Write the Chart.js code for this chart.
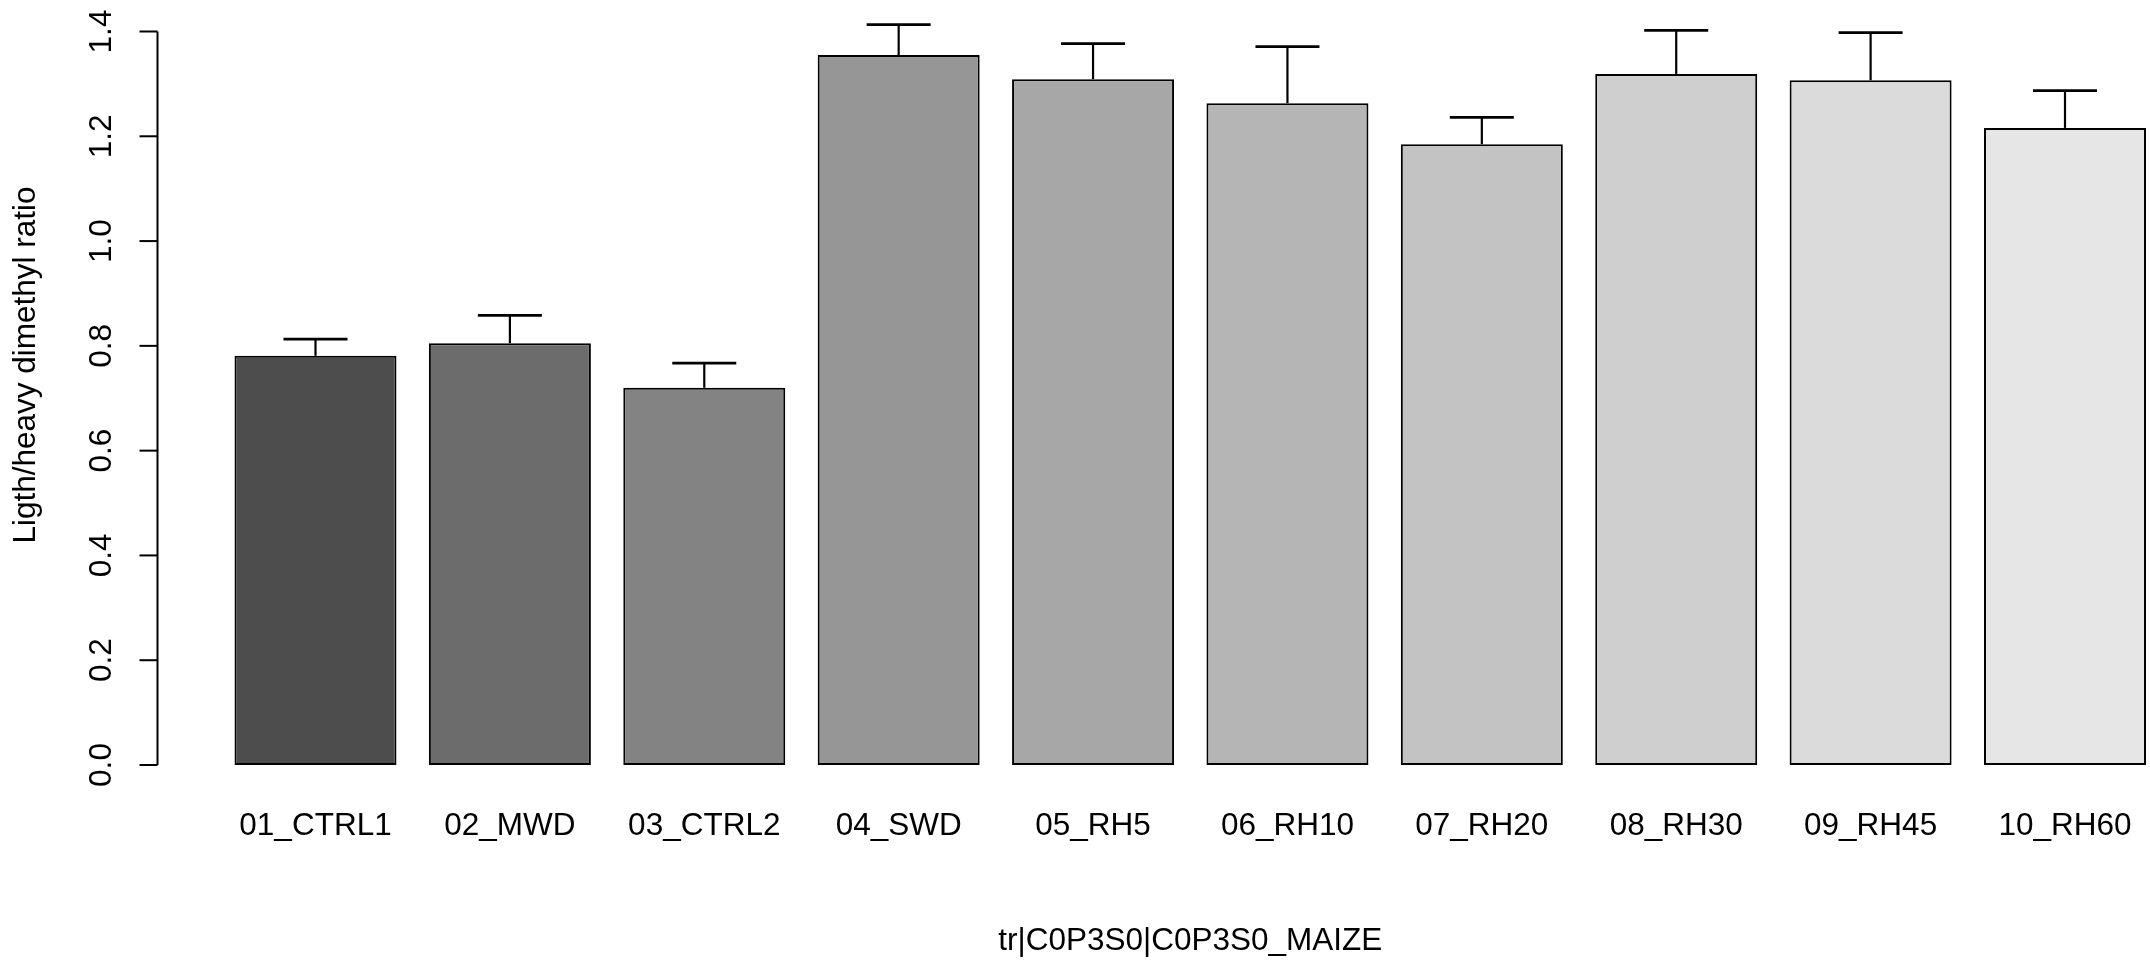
<!DOCTYPE html>
<html>
<head>
<meta charset="utf-8">
<script src="https://cdn.jsdelivr.net/npm/chart.js@4/dist/chart.umd.min.js"></script>
<style>
    html, body { margin: 0; padding: 0; background: #ffffff; overflow: hidden; }
    #wrap { width: 2150px; height: 961px; position: relative; }
</style>
</head>
<body>
<div id="wrap"><canvas id="ratioChart" width="2150" height="961"></canvas></div>
<script>
    // Data
    const categories = ['01_CTRL1', '02_MWD', '03_CTRL2', '04_SWD', '05_RH5',
        '06_RH10', '07_RH20', '08_RH30', '09_RH45', '10_RH60'];
    const ratioMeans = [0.781, 0.805, 0.720, 1.355, 1.309, 1.263, 1.185, 1.319, 1.307, 1.216];
    const ratioErrors = [0.032, 0.053, 0.047, 0.058, 0.068, 0.108, 0.051, 0.083, 0.091, 0.071];
    const yTicks = [0, 0.2, 0.4, 0.6, 0.8, 1.0, 1.2, 1.4];
    const yTickLabels = ['0.0', '0.2', '0.4', '0.6', '0.8', '1.0', '1.2', '1.4'];
    const barColors = ['#4D4D4D', '#6C6C6C', '#838383', '#969696', '#A7A7A7',
        '#B5B5B5', '#C3C3C3', '#CFCFCF', '#DBDBDB', '#E6E6E6'];
    const xTitle = 'tr|C0P3S0|C0P3S0_MAIZE';
    const yTitle = 'Ligth/heavy dimethyl ratio';

    const FONT = '31.5px "Liberation Sans", Arial, sans-serif';

    /**
     * Error bars (upper only), drawn on top of the bars
     */
    const errorBarPlugin = {
        id: 'errorBars',
        afterDatasetsDraw: function (chart) {
            const ctx = chart.ctx;
            const y = chart.scales.y;
            const meta = chart.getDatasetMeta(0);
            ctx.save();
            ctx.strokeStyle = '#000000';
            ctx.lineCap = 'butt';
            meta.data.forEach(function (bar, i) {
                const yTop = y.getPixelForValue(ratioMeans[i]);
                const yErr = y.getPixelForValue(ratioMeans[i] + ratioErrors[i]);
                ctx.lineWidth = 2.2;
                ctx.beginPath();
                ctx.moveTo(bar.x, yTop);
                ctx.lineTo(bar.x, yErr);
                ctx.stroke();
                ctx.lineWidth = 2.8;
                ctx.beginPath();
                ctx.moveTo(bar.x - 32, yErr);
                ctx.lineTo(bar.x + 32, yErr);
                ctx.stroke();
            });
            ctx.restore();
        }
    };

    /**
     * R-style axes: left axis line with ticks, rotated labels, titles
     */
    const rAxesPlugin = {
        id: 'rAxes',
        afterDraw: function (chart) {
            const ctx = chart.ctx;
            const y = chart.scales.y;
            const x = chart.scales.x;
            const axisX = 157.5;
            ctx.save();
            ctx.strokeStyle = '#000000';
            ctx.fillStyle = '#000000';
            ctx.lineWidth = 2;

            // axis line
            ctx.beginPath();
            ctx.moveTo(axisX, y.getPixelForValue(yTicks[0]));
            ctx.lineTo(axisX, y.getPixelForValue(yTicks[yTicks.length - 1]));
            ctx.stroke();

            ctx.font = FONT;
            yTicks.forEach(function (v, i) {
                const py = y.getPixelForValue(v);
                ctx.beginPath();
                ctx.moveTo(axisX - 18, py);
                ctx.lineTo(axisX, py);
                ctx.stroke();
                ctx.save();
                ctx.translate(111, py);
                ctx.rotate(-Math.PI / 2);
                ctx.textAlign = 'center';
                ctx.textBaseline = 'alphabetic';
                ctx.fillText(yTickLabels[i], 0, 0);
                ctx.restore();
            });

            // category labels
            ctx.textAlign = 'center';
            ctx.textBaseline = 'alphabetic';
            categories.forEach(function (c, i) {
                ctx.fillText(c, x.getPixelForValue(i), 835);
            });

            // titles
            const left = x.getPixelForValue(0);
            const right = x.getPixelForValue(categories.length - 1);
            ctx.fillText(xTitle, (left + right) / 2, 950);

            ctx.save();
            ctx.translate(35, 365);
            ctx.rotate(-Math.PI / 2);
            ctx.fillText(yTitle, 0, 0);
            ctx.restore();

            ctx.restore();
        }
    };

    const chart = new Chart(document.getElementById('ratioChart').getContext('2d'), {
        type: 'bar',
        data: {
            labels: categories,
            datasets: [{
                data: ratioMeans,
                backgroundColor: barColors,
                borderColor: '#000000',
                borderWidth: 2,
                borderSkipped: false,
                categoryPercentage: 1,
                barPercentage: 1 / 1.2,
                clip: false
            }]
        },
        options: {
            responsive: false,
            animation: false,
            devicePixelRatio: 1,
            layout: {
                padding: { left: 315.5, right: 85, top: 31.5, bottom: 196 }
            },
            plugins: {
                legend: { display: false },
                tooltip: { enabled: false }
            },
            scales: {
                x: {
                    type: 'category',
                    offset: false,
                    display: false
                },
                y: {
                    min: 0,
                    max: 1.4,
                    display: false
                }
            }
        },
        plugins: [errorBarPlugin, rAxesPlugin]
    });
</script>
</body>
</html>
